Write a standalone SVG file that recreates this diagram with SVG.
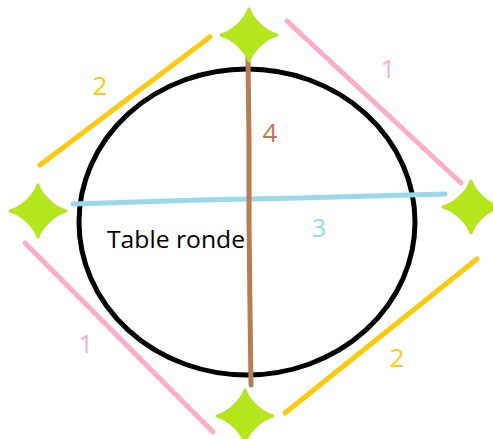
<svg xmlns="http://www.w3.org/2000/svg" width="493" height="439" viewBox="0 0 493 439">
<style>
.star{fill:#b5e61d;stroke:#b5e61d;stroke-width:3;stroke-linejoin:round}
.ln{fill:none;stroke-width:5;stroke-linecap:round}
.pink{stroke:#ffaec9}
.orange{stroke:#ffc90e}
.lbl{font-family:"Open Sans","Noto Sans","DejaVu Sans",sans-serif;font-size:26px;text-anchor:middle}
</style>
<defs>
<path id="st" d="M0,-26 C3,-16 16,-3 28,0 C16,3 3,16 0,26 C-3,16 -16,3 -28,0 C-16,-3 -3,-16 0,-26 Z"/>
</defs>
<rect width="493" height="439" fill="#fff"/>
<g id="table">
<ellipse cx="247" cy="222" rx="168" ry="153" fill="none" stroke="#000" stroke-width="5"/>
<text x="107" y="248" font-family="'Open Sans','Noto Sans',sans-serif" font-size="24" textLength="138" lengthAdjust="spacingAndGlyphs" fill="#000">Table ronde</text>
</g>
<g id="connectors">
<line class="ln orange" x1="40" y1="165" x2="210" y2="37"/>
<line class="ln orange" x1="285" y1="413" x2="477" y2="259"/>
<line class="ln pink" x1="287" y1="21" x2="461" y2="183"/>
<line class="ln pink" x1="25" y1="243" x2="213" y2="432"/>
<polyline class="ln" stroke="#99d9ea" points="73,204 200,200 300,198 445,194"/>
<polyline class="ln" stroke="#b97a57" points="248,58 249,140 249,220 250,310 251,385"/>
<text class="lbl" x="100" y="95" fill="#ffc90e">2</text>
<text class="lbl" x="397" y="367" fill="#ffc90e">2</text>
<text class="lbl" x="388" y="78" fill="#ffaec9">1</text>
<text class="lbl" x="86" y="353" fill="#ffaec9">1</text>
<text class="lbl" x="270" y="142" fill="#b97a57">4</text>
<text class="lbl" x="319" y="237" fill="#99d9ea">3</text>
</g>
<g id="star-top"><use href="#st" class="star" x="249" y="35"/></g>
<g id="star-left"><use href="#st" class="star" x="38" y="211"/></g>
<g id="star-right"><use href="#st" class="star" x="471" y="207"/></g>
<g id="star-bottom"><use href="#st" class="star" x="245" y="416"/></g>
</svg>
